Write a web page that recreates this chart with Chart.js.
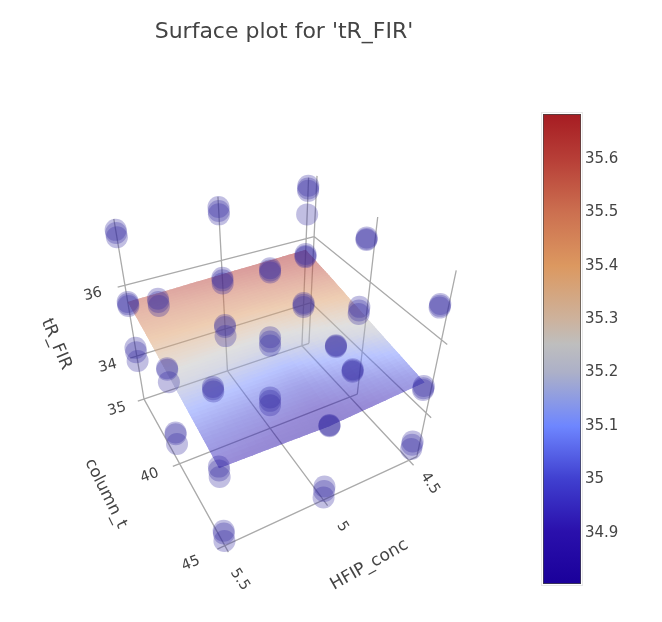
<!DOCTYPE html>
<html><head><meta charset="utf-8">
<script src="https://cdn.jsdelivr.net/npm/chart.js@4"></script>
<style>html,body{margin:0;background:#fff;width:662px;height:622px;overflow:hidden}
canvas{display:block}
#scene{position:absolute;left:0;top:0}#bar{position:absolute;left:530px;top:0}</style></head>
<body>
<div id="scene"><canvas id="c1" width="568" height="622"></canvas></div>
<div id="bar"><canvas id="c2" width="132" height="622"></canvas></div>
<script>
// ---------- data ----------
const hfipLevels = [4.5, 5, 5.5];
const surfaceColumnLevels = [35, 37.5, 40, 42.5, 45];
// measured tR_FIR replicates, by HFIP_conc / column_t
const tR_h45_c35 = [37.40, 37.33, 37.27, 36.66, 35.56, 35.50, 35.47, 34.06, 34.00, 33.93];
const tR_h50_c35 = [37.36, 37.26, 37.18, 35.52, 35.45, 35.36, 34.12, 34.06, 33.77];
const tR_h55_c35 = [37.35, 37.28, 37.18, 35.56, 35.50, 35.45, 34.25, 34.12, 33.85];
const tR_h45_c40 = [37.18, 37.14, 37.12, 35.40, 35.30, 35.20, 33.53, 33.49, 33.45];
const tR_h50_c40 = [37.07, 37.02, 36.97, 35.36, 35.24, 35.13, 33.61, 33.50, 33.36];
const tR_h55_c40 = [37.07, 37.00, 36.91, 35.42, 35.38, 35.05, 33.60, 33.55, 33.24];
const tR_h45_c45 = [36.93, 36.89, 36.85, 34.88, 34.82, 34.77, 33.22, 33.12, 32.98];
const tR_h50_c45 = [36.81, 36.79, 36.77, 34.86, 34.85, 34.83, 33.04, 32.90, 32.68];
const tR_h55_c45 = [36.83, 36.78, 36.73, 34.95, 34.85, 34.67, 33.09, 33.00, 32.75];
// fitted response surface: one list per column_t level, ordered by HFIP_conc
const surface_c35 = [35.68, 35.62, 35.56];
const surface_c375 = [35.52, 35.45, 35.42];
const surface_c40 = [35.33, 35.22, 35.25];
const surface_c425 = [35.15, 35.02, 35.08];
const surface_c45 = [34.98, 34.83, 34.91];
const hfipTicks = [4.5, 5, 5.5];
const columnTicks = [35, 40, 45];
const tRTicks = [34, 36];
const colorbarTicks = [34.9, 35, 35.1, 35.2, 35.3, 35.4, 35.5, 35.6];
const titleText = "Surface plot for 'tR_FIR'";
const hfipTitle = 'HFIP_conc', columnTitle = 'column_t', tRTitle = 'tR_FIR';

// ---------- axis ranges and camera ----------
const hfipRange = [4.45, 5.5], columnRange = [35, 45], tRRange = [32.6, 37.6];
const cbRange = [34.804, 35.684];
const cam = [-181.0737,29.3974,-46.3625,308.9537, 11.0882,27.3209,-197.6857,343.3377, -0.112,-0.1883,-0.1717];
function project(h, c, t) {
  const u = (h - hfipRange[0]) / (hfipRange[1] - hfipRange[0]);
  const v = (c - columnRange[0]) / (columnRange[1] - columnRange[0]);
  const w = (t - tRRange[0]) / (tRRange[1] - tRRange[0]);
  const d = cam[8]*u + cam[9]*v + cam[10]*w + 1;
  return { x: (cam[0]*u + cam[1]*v + cam[2]*w + cam[3]) / d, y: (cam[4]*u + cam[5]*v + cam[6]*w + cam[7]) / d };
}
const stops = [[0,[26,0,154]],[0.112,[42,16,172]],[0.224,[64,64,208]],[0.336,[110,134,255]],[0.45,[172,176,200]],[0.51,[190,190,190]],[0.564,[205,178,156]],[0.677,[220,152,96]],[0.79,[204,112,80]],[0.9,[184,64,56]],[1,[166,28,34]]];
function cmap(f) {
  f = Math.max(0, Math.min(1, f));
  for (let i = 1; i < stops.length; i++) if (f <= stops[i][0]) {
    const a = stops[i-1], b = stops[i], k = (f-a[0])/(b[0]-a[0]);
    return a[1].map((v,j) => Math.round(v + (b[1][j]-v)*k));
  }
  return stops[stops.length-1][1];
}
const replicateSets = [
  [4.5,35,tR_h45_c35],[5,35,tR_h50_c35],[5.5,35,tR_h55_c35],
  [4.5,40,tR_h45_c40],[5,40,tR_h50_c40],[5.5,40,tR_h55_c40],
  [4.5,45,tR_h45_c45],[5,45,tR_h50_c45],[5.5,45,tR_h55_c45]];
const scatterData = [];
replicateSets.forEach(([h,c,list]) => list.forEach(t => scatterData.push(project(h,c,t))));

function seg(ctx, sx, sy, a, b) {
  const p = project(...a), q = project(...b);
  ctx.moveTo(sx.getPixelForValue(p.x), sy.getPixelForValue(p.y));
  ctx.lineTo(sx.getPixelForValue(q.x), sy.getPixelForValue(q.y));
}
const scenePlugin = {
  id: 'scene',
  beforeDatasetsDraw(chart) {
    const ctx = chart.ctx, sx = chart.scales.x, sy = chart.scales.y;
    const hLo = hfipRange[0], hHi = hfipRange[1], cLo = columnRange[0], cHi = columnRange[1], tLo = tRRange[0], tHi = tRRange[1];
    const tickH = 0.035, tickC = 0.35;
    ctx.save();
    ctx.strokeStyle = 'rgb(170,170,170)';
    ctx.lineWidth = 1.3;
    ctx.beginPath();
    hfipTicks.forEach(h => { seg(ctx,sx,sy,[h,cLo,tLo],[h,cLo,tHi]); seg(ctx,sx,sy,[h,cLo,tLo],[h,cHi+tickC,tLo]); });
    columnTicks.forEach(c => { seg(ctx,sx,sy,[hLo,c,tLo],[hLo,c,tHi]); seg(ctx,sx,sy,[hLo,c,tLo],[hHi+tickH,c,tLo]); });
    tRTicks.forEach(t => { seg(ctx,sx,sy,[hLo,cLo,t],[hHi+tickH,cLo,t]); seg(ctx,sx,sy,[hLo,cLo,t],[hLo,cHi+tickC,t]); });
    ctx.stroke();
    ctx.restore();
    // surface: opaque on an offscreen layer, then blended once
    const off = document.createElement('canvas');
    off.width = chart.width; off.height = chart.height;
    const o = off.getContext('2d');
    const grid = [surface_c35, surface_c375, surface_c40, surface_c425, surface_c45], N = 14;
    const nr = grid.length - 1, ns = hfipLevels.length - 1;
    const pix = (r, s) => {
      const i = Math.min(nr-1, Math.floor(r)), j = Math.min(ns-1, Math.floor(s)), a = r-i, b = s-j;
      const z = grid[i][j]*(1-a)*(1-b) + grid[i+1][j]*a*(1-b) + grid[i][j+1]*(1-a)*b + grid[i+1][j+1]*a*b;
      const h = hfipLevels[j] + b*(hfipLevels[j+1]-hfipLevels[j]);
      const c = surfaceColumnLevels[i] + a*(surfaceColumnLevels[i+1]-surfaceColumnLevels[i]);
      const p = project(h, c, z);
      return { x: sx.getPixelForValue(p.x), y: sy.getPixelForValue(p.y), z };
    };
    // clip to the outline so the seam-hiding strokes stay inside the surface
    o.beginPath();
    const M = nr*N, S = ns*N;
    for (let b = 0; b <= S; b++) { const p = pix(0,b/N); b ? o.lineTo(p.x,p.y) : o.moveTo(p.x,p.y); }
    for (let a = 0; a <= M; a++) { const p = pix(a/N,ns); o.lineTo(p.x,p.y); }
    for (let b = S; b >= 0; b--) { const p = pix(nr,b/N); o.lineTo(p.x,p.y); }
    for (let a = M; a >= 0; a--) { const p = pix(a/N,0); o.lineTo(p.x,p.y); }
    o.closePath(); o.clip();
    for (let a = 0; a < M; a++) for (let b = 0; b < S; b++) {
      const p1 = pix(a/N,b/N), p2 = pix((a+1)/N,b/N), p3 = pix((a+1)/N,(b+1)/N), p4 = pix(a/N,(b+1)/N);
      const z = (p1.z+p2.z+p3.z+p4.z)/4;
      const col = cmap((z-cbRange[0])/(cbRange[1]-cbRange[0]));
      o.fillStyle = o.strokeStyle = `rgb(${col[0]},${col[1]},${col[2]})`;
      o.lineWidth = 1.5;
      o.beginPath(); o.moveTo(p1.x,p1.y); o.lineTo(p2.x,p2.y); o.lineTo(p3.x,p3.y); o.lineTo(p4.x,p4.y); o.closePath();
      o.fill(); o.stroke();
    }
    ctx.save(); ctx.globalAlpha = 0.48; ctx.drawImage(off, 0, 0, chart.width, chart.height); ctx.restore();
  },
  afterDatasetsDraw(chart) {
    const ctx = chart.ctx, sx = chart.scales.x, sy = chart.scales.y;
    const label = (txt, p, dx, dy, rot, size) => {
      ctx.save();
      ctx.translate(sx.getPixelForValue(p.x)+dx, sy.getPixelForValue(p.y)+dy);
      ctx.rotate(rot*Math.PI/180);
      ctx.font = `${size}px "DejaVu Sans", Verdana, sans-serif`;
      ctx.fillStyle = '#444'; ctx.textAlign = 'center'; ctx.textBaseline = 'middle';
      ctx.fillText(txt, 0, 0);
      ctx.restore();
    };
    const cLo = columnRange[0], tLo = tRRange[0], hHi = hfipRange[1], cHi = columnRange[1];
    tRTicks.forEach((t,i) => label(String(t), project(hHi,cLo,t), [-29,-32][i], [10,9][i], -14, 14.5));
    columnTicks.forEach((c,i) => label(String(c), project(hHi,c,tLo), [-27,-30,-34][i], [10,12,18][i], [-15,-20,-22][i], 14.5));
    hfipTicks.forEach((h,i) => label(String(h), project(h,cHi,tLo), [21,19,15][i], [23,27,34][i], 57, 14.5));
    label(tRTitle, project(hHi,cLo,35), -75, 22, 67, 17);
    label(columnTitle, project(hHi,40,tLo), -74, 30, 63.4, 16.5);
    label(hfipTitle, project(5,cHi,tLo), 46, 65, -29.6, 17);
  }
};

new Chart(document.getElementById('c1'), {
  type: 'scatter',
  data: { datasets: [{ label: tRTitle, data: scatterData, backgroundColor: 'rgba(50,40,160,0.3)', borderWidth: 0, pointRadius: 11, pointHoverRadius: 11 }] },
  options: {
    responsive: false, animation: false, events: [],
    layout: { padding: 0, autoPadding: false },
    plugins: {
      legend: { display: false }, tooltip: { enabled: false },
      title: { display: true, text: titleText, color: '#444', font: { family: '"DejaVu Sans", Verdana, sans-serif', size: 22, weight: 'normal' }, padding: { top: 19, bottom: 9.6 } }
    },
    scales: {
      x: { type: 'linear', display: false, min: 0, max: 568 },
      y: { type: 'linear', display: false, min: 55, max: 622, reverse: true }
    }
  },
  plugins: [scenePlugin]
});

const gradientPlugin = {
  id: 'gradientBar',
  beforeDatasetsDraw(chart) {
    const { ctx, chartArea: a } = chart;
    ctx.save();
    ctx.strokeStyle = '#e8e8e8'; ctx.lineWidth = 1;
    ctx.strokeRect(a.left-1.5, a.top-1.5, a.width+3, a.height+3);
    ctx.restore();
  }
};
new Chart(document.getElementById('c2'), {
  type: 'bar',
  data: { labels: ['tR_FIR'], datasets: [{ data: [cbRange],
    borderColor: '#444', borderWidth: 1, borderSkipped: false, barPercentage: 1, categoryPercentage: 1,
    backgroundColor(ctx) {
      const { chart } = ctx, a = chart.chartArea;
      if (!a) return '#888';
      const g = chart.ctx.createLinearGradient(0, a.bottom, 0, a.top);
      stops.forEach(s => g.addColorStop(s[0], `rgb(${s[1].join(',')})`));
      return g;
    } }] },
  options: {
    responsive: false, animation: false, events: [],
    layout: { padding: { left: 13, right: 0, top: 114, bottom: 38 } },
    plugins: { legend: { display: false }, tooltip: { enabled: false } },
    scales: {
      x: { display: false },
      y: { position: 'right', min: cbRange[0], max: cbRange[1], afterBuildTicks(s) { s.ticks = colorbarTicks.map(v => ({ value: v })); },
        afterFit(s) { s.width = 81; },
        grid: { display: false }, border: { display: false },
        ticks: { color: '#444', padding: -4, font: { family: '"DejaVu Sans", Verdana, sans-serif', size: 15 }, callback: v => String(v) } }
    }
  },
  plugins: [gradientPlugin]
});
</script></body></html>
